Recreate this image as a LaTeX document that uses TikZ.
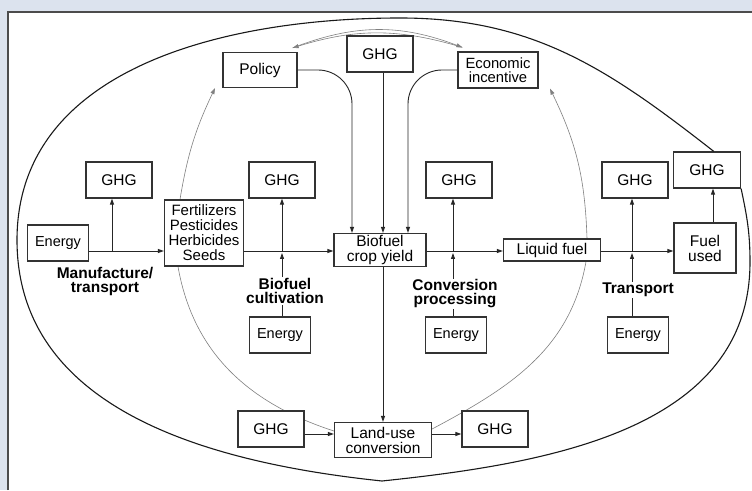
\documentclass[tikz,border=0pt]{standalone}
\usepackage{fontspec}
\setmainfont{Liberation Sans}
\usetikzlibrary{arrows.meta, backgrounds}

\definecolor{panelbg}{HTML}{DCE3EE}
\definecolor{boxline}{HTML}{333333}

\begin{document}
\begin{tikzpicture}[x=1pt, y=1pt, >={Triangle[length=6pt, width=4pt]},
    box/.style={draw=boxline, line width=1.2pt, fill=white, rectangle, inner sep=0pt, minimum width=66pt, minimum height=36pt, align=center, text=black, font=\fontsize{15.5}{15}\selectfont},
    energy/.style={box, minimum width=61pt, font=\fontsize{14.5}{15}\selectfont},
    stagelbl/.style={align=center, inner sep=1pt, text=black, font=\fontsize{15.5}{14}\selectfont\bfseries},
    conn/.style={line width=0.9pt, draw=black!85},
    fbk/.style={line width=0.6pt, draw=black!50},
    oval/.style={line width=1.1pt, draw=black!90}]
    \useasboundingbox (0,0) rectangle (752,490);
    \node[box, minimum width=74pt, minimum height=35pt] (policy) at (260,420) {Policy};
    \node[box] (ghgT) at (380,436) {GHG};
    \node[box, minimum width=80pt, font=\fontsize{14.8}{14}\selectfont] (econ) at (498,420) {Economic\\incentive};
    \node[energy] (enA) at (58,247) {Energy};
    \node[box] (ghgA) at (119,310) {GHG};
    \node[box, minimum width=79pt, minimum height=66pt, font=\fontsize{15}{15}\selectfont] (fert) at (204,257) {Fertilizers\\Pesticides\\Herbicides\\Seeds};
    \node[box] (ghgB) at (282,310) {GHG};
    \node[box, minimum width=92pt, minimum height=33pt] (crop) at (380,240) {Biofuel\\crop yield};
    \node[box] (ghgC) at (459,310) {GHG};
    \node[box, minimum width=97pt, minimum height=22pt] (liquid) at (552,240) {Liquid fuel};
    \node[box] (ghgD) at (635,310) {GHG};
    \node[box, minimum width=62pt, minimum height=50pt] (fuel) at (705,242) {Fuel\\used};
    \node[box, minimum width=67pt] (ghgF) at (707,320) {GHG};
    \node[energy] (enB) at (280,155) {Energy};
    \node[energy] (enC) at (456,155) {Energy};
    \node[energy] (enD) at (638,155) {Energy};
    \node[box] (ghgL) at (271,61) {GHG};
    \node[box, minimum width=97pt, minimum height=35pt] (land) at (383,50) {Land-use\\conversion};
    \node[box] (ghgR) at (495,61) {GHG};
    \node[stagelbl] (lblA) at (105,209) {Manufacture/\\transport};
    \node[stagelbl] (lblB) at (285,199) {Biofuel\\cultivation};
    \node[stagelbl] (lblC) at (455,196) {Conversion\\processing};
    \node[stagelbl] (lblD) at (638,200) {Transport};
    \coordinate (jA) at (112,239);
    \coordinate (jB) at (282,239);
    \coordinate (jC) at (453,239);
    \coordinate (jD) at (632,239);
    % main chain
    \draw[conn, ->] (enA.east |- jA) -- (fert.west |- jA);
    \draw[conn, ->] (fert.east |- jB) -- (crop.west |- jB);
    \draw[conn, ->] (crop.east |- jC) -- (liquid.west |- jC);
    \draw[conn, ->] (liquid.east |- jD) -- (fuel.west |- jD);
    \draw[conn, ->] (jA) -- (ghgA.south -| jA);
    \draw[conn, ->] (jB) -- (ghgB.south -| jB);
    \draw[conn, ->] (jC) -- (ghgC.south -| jC);
    \draw[conn, ->] (jD) -- (ghgD.south -| jD);
    \draw[conn, ->] ([xshift=8pt]fuel.north) -- ([xshift=8pt]fuel.north |- ghgF.south);
    \draw[conn] (enB.north -| jB) -- (lblB.south -| jB);
    \draw[conn, ->, shorten >=2pt] (lblB.north -| jB) -- (jB);
    \draw[conn] (enC.north -| jC) -- (lblC.south -| jC);
    \draw[conn, ->, shorten >=2pt] (lblC.north -| jC) -- (jC);
    \draw[conn] (enD.north -| jD) -- (lblD.south -| jD);
    \draw[conn, ->, shorten >=2pt] (lblD.north -| jD) -- (jD);
    % drivers of yield
    \draw[conn, ->] (ghgT.south -| land.north) -- (crop.north -| land.north);
    \draw[conn, ->, rounded corners=34pt] (policy.east) -| ([xshift=-28pt]crop.north);
    \draw[conn, ->, rounded corners=34pt] (econ.west) -| ([xshift=28pt]crop.north);
    % land use
    \draw[conn, ->] (crop.south -| land.north) -- (land.north);
    \draw[conn, ->] ([yshift=-5pt]ghgL.east) -- ([yshift=-5pt]ghgL.east -| land.west);
    \draw[conn, ->] ([yshift=-5pt]ghgR.west -| land.east) -- ([yshift=-5pt]ghgR.west);
    % system boundary
    \draw[oval] (ghgF.70) to[out=142, in=0] (400,472) to[out=180, in=90] (17,250)
        to[out=-90, in=174] (382,9) to[out=6, in=-90] (750,228) to[out=90, in=-78] (ghgF.south east);
    \begin{scope}[on background layer]
        \fill[panelbg] (0,0) rectangle (752,490);
        \fill[white] (8,0) rectangle (752,478);
        \draw[draw=black!70, line width=1.5pt] (8,0) -- (8,478) -- (752,478);
        \draw[fbk, ->] ([xshift=-24pt]fert.north) to[bend left=8] ([xshift=-45pt]policy.south);
        \draw[fbk, ->] ([xshift=35pt]liquid.north) to[bend right=12] ([xshift=52pt]econ.south);
        \draw[fbk, ->] ([shift={(-5pt,4pt)}]policy.north east) to[bend left=21] ([shift={(5pt,4pt)}]econ.north west);
        \draw[fbk, ->] ([shift={(5pt,4pt)}]econ.north west) to[bend right=17] ([shift={(-5pt,4pt)}]policy.north east);
        \draw[fbk] ([xshift=-26pt]fert.south) to[out=-80, in=162] ([yshift=9pt]land.west);
        \draw[fbk] ([yshift=11pt]land.east) to[out=28, in=-100] ([xshift=34pt]liquid.south);
    \end{scope}
\end{tikzpicture}
\end{document}
